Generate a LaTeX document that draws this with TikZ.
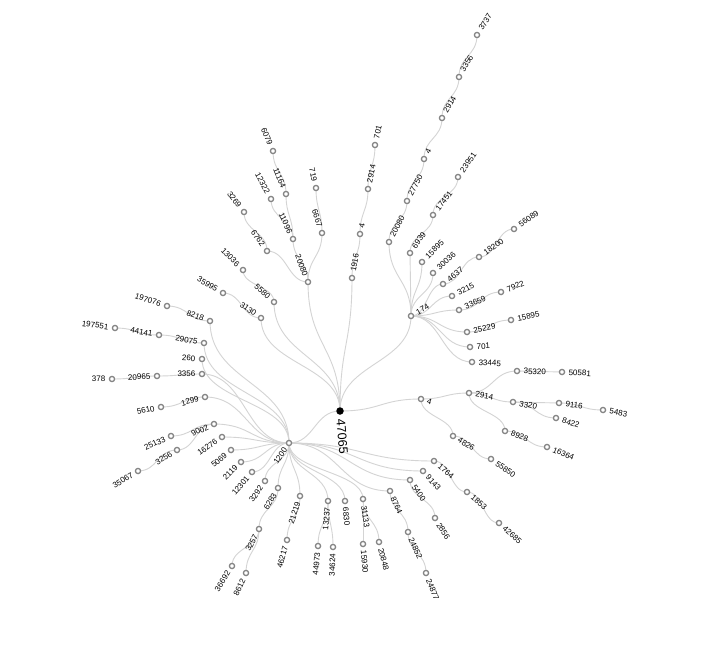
\documentclass[tikz,border=0pt]{standalone}
\usepackage{fontspec}
\setmainfont{Liberation Sans}
\usetikzlibrary{calc}
\pgfdeclarelayer{bg}
\pgfsetlayers{bg,main}
\definecolor{linkc}{HTML}{D4D4D4}
\definecolor{nodec}{HTML}{858585}
\tikzset{
 tnode/.style={circle, draw=nodec, fill=white, line width=1.3pt, minimum size=5.2pt, inner sep=0pt},
 rootnode/.style={circle, fill=black, minimum size=7.5pt, inner sep=0pt},
 lbl/.style={font=\fontsize{8}{9}\selectfont, inner sep=0pt, text=black},
 link/.style={draw=linkc, line width=0.9pt},
}
\newcommand\NR[5]{\node[tnode] (#1) at (#2,-#3) {};
 \node[lbl, anchor=west, rotate=#5] (#1t) at ($(#1)+(#5:6.5)$) {#4};}
\newcommand\NL[5]{\node[tnode] (#1) at (#2,-#3) {};
 \pgfmathsetmacro\myrot{#5+180}
 \node[lbl, anchor=east, rotate=\myrot] (#1t) at ($(#1)+(#5:6.5)$) {#4};}
\newcommand\lkh[2]{\draw[link] let \p1=(#1), \p2=(#2) in (\p1) .. controls ({(\x1+\x2)/2},\y1) and ({(\x1+\x2)/2},\y2) .. (\p2);}
\newcommand\lkv[2]{\draw[link] let \p1=(#1), \p2=(#2) in (\p1) .. controls (\x1,{(\y1+\y2)/2}) and (\x2,{(\y1+\y2)/2}) .. (\p2);}
\begin{document}
\begin{tikzpicture}[x=1pt,y=1pt]
\useasboundingbox (0,-645) rectangle (701,0);
% root
\node[rootnode] (R) at (340,-411) {};
\node[lbl, font=\fontsize{12.5}{14}\selectfont, anchor=west, rotate=-85] (Rt) at ($(R)+(-85:8)$) {47065};
% top-left
\NL{a20080}{308}{282}{20080}{111}
\NL{b11096}{293}{239}{11096}{115}
\NL{c11164}{286}{194}{11164}{112}
\NL{d6079}{273}{151}{6079}{113}
\NL{e12322}{271}{199}{12322}{118}
\NL{f6667}{322}{233}{6667}{108}
\NL{g719}{316}{188}{719}{102}
\NL{h6762}{267}{251}{6762}{125}
\NL{i3269}{244}{212}{3269}{128}
\NR{j1916}{352}{278}{1916}{80}
\NR{k4}{360}{234}{4}{78}
\NR{l2914}{368}{189}{2914}{78}
\NR{m701}{375}{145}{701}{78}
\NL{p5580}{274}{302}{5580}{138}
\NL{p13036}{243}{270}{13036}{135}
\NL{p3130}{261}{318}{3130}{145}
\NL{p35995}{223}{293}{35995}{150}
% left
\NL{n1200}{289}{443}{1200}{236}
\NL{q8218}{210}{321}{8218}{160}
\NL{q197076}{167}{306}{197076}{162}
\NL{q29075}{204}{343}{29075}{170}
\NL{q44141}{159}{335}{44141}{170}
\NL{q197551}{115}{328}{197551}{172}
\NL{q260}{202}{359}{260}{177}
\NL{q3356}{202}{374}{3356}{180}
\NL{q20965}{157}{376}{20965}{183}
\NL{q378}{112}{379}{378}{180}
\NL{q1299}{205}{397}{1299}{195}
\NL{q5610}{161}{407}{5610}{192}
\NL{q9002}{214}{424}{9002}{205}
\NL{q25133}{171}{436}{25133}{205}
\NL{q3256}{177}{450}{3256}{212}
\NL{q35067}{138}{471}{35067}{212}
\NL{q16276}{222}{437}{16276}{215}
\NL{q5069}{231}{450}{5069}{220}
\NL{q2119}{241}{462}{2119}{225}
\NL{q12301}{252}{472}{12301}{230}
\NL{q3292}{265}{481}{3292}{235}
\NL{q6283}{278}{488}{6283}{240}
\NL{q3257}{259}{529}{3257}{242}
\NL{q36692}{232}{566}{36692}{238}
\NL{q8612}{246}{573}{8612}{245}
\NL{q21219}{300}{496}{21219}{252}
\NL{q46217}{287}{540}{46217}{255}
\NL{q13237}{328}{501}{13237}{265}
\NL{q44973}{318}{546}{44973}{265}
\NL{q34624}{333}{547}{34624}{268}
% bottom right
\NR{r6830}{345}{501}{6830}{-85}
\NR{r31133}{363}{499}{31133}{-82}
\NR{r15930}{363}{544}{15930}{-85}
\NR{r20848}{379}{542}{20848}{-75}
\NR{r8764}{390}{491}{8764}{-65}
\NR{r24852}{408}{532}{24852}{-65}
\NR{r24877}{426}{573}{24877}{-68}
\NR{r5400}{410}{480}{5400}{-55}
\NR{r2856}{435}{518}{2856}{-58}
\NR{r9143}{423}{471}{9143}{-48}
\NR{r1764}{434}{461}{1764}{-40}
\NR{r1853}{467}{492}{1853}{-40}
\NR{r42685}{499}{523}{42685}{-42}
% right
\NR{s4}{421}{399}{4}{-20}
\NR{s2914}{469}{393}{2914}{-10}
\NR{s35320}{517}{371}{35320}{-2}
\NR{s50581}{562}{372}{50581}{-3}
\NR{s3320}{513}{402}{3320}{-12}
\NR{s9116}{559}{403}{9116}{-8}
\NR{s5483}{603}{410}{5483}{-10}
\NR{s8422}{556}{418}{8422}{-18}
\NR{s8928}{505}{431}{8928}{-20}
\NR{s16364}{547}{447}{16364}{-22}
\NR{s4826}{453}{436}{4826}{-32}
\NR{s55850}{491}{459}{55850}{-35}
% 174 cluster
\NR{t174}{411}{316}{174}{30}
\NR{t20080}{389}{242}{20080}{62}
\NR{t27750}{407}{201}{27750}{62}
\NR{t4}{424}{159}{4}{62}
\NR{t2914}{442}{118}{2914}{60}
\NR{t3356}{459}{77}{3356}{60}
\NR{t3737}{477}{35}{3737}{58}
\NR{t6939}{410}{253}{6939}{55}
\NR{t17451}{433}{215}{17451}{52}
\NR{t23951}{458}{177}{23951}{55}
\NR{t15895}{422}{262}{15895}{45}
\NR{t30036}{433}{273}{30036}{42}
\NR{t4637}{443}{284}{4637}{38}
\NR{t18200}{479}{257}{18200}{35}
\NR{t56089}{514}{229}{56089}{35}
\NR{t3215}{452}{296}{3215}{28}
\NR{t33659}{459}{310}{33659}{25}
\NR{t7922}{501}{292}{7922}{22}
\NR{t25229}{467}{332}{25229}{12}
\NR{u15895}{511}{320}{15895}{12}
\NR{t701}{470}{347}{701}{3}
\NR{t33445}{472}{362}{33445}{-3}
% links
\begin{pgfonlayer}{bg}
\fill[white] (0,-645) rectangle (701,0);
\lkv{R}{a20080} \lkv{R}{j1916} \lkv{R}{p5580} \lkv{R}{p3130} \lkh{R}{n1200} \lkv{R}{t174} \lkh{R}{s4}
\lkv{a20080}{b11096} \lkv{a20080}{f6667} \lkh{a20080}{h6762}
\lkv{b11096}{c11164} \lkv{b11096}{e12322} \lkv{c11164}{d6079} \lkv{f6667}{g719} \lkv{h6762}{i3269}
\lkv{j1916}{k4} \lkv{k4}{l2914} \lkv{l2914}{m701}
\lkv{p5580}{p13036} \lkh{p3130}{p35995}
\lkv{n1200}{q8218} \lkv{n1200}{q29075} \lkv{n1200}{q260} \lkh{n1200}{q3356} \lkh{n1200}{q1299} \lkh{n1200}{q9002} \lkh{n1200}{q16276} \lkh{n1200}{q5069} \lkh{n1200}{q2119} \lkh{n1200}{q12301} \lkv{n1200}{q3292} \lkv{n1200}{q6283} \lkv{n1200}{q21219} \lkv{n1200}{q13237} \lkv{n1200}{r6830} \lkv{n1200}{r31133} \lkh{n1200}{r8764} \lkh{n1200}{r5400} \lkh{n1200}{r9143} \lkh{n1200}{r1764}
\lkh{q8218}{q197076} \lkh{q29075}{q44141} \lkh{q44141}{q197551} \lkh{q3356}{q20965} \lkh{q20965}{q378} \lkh{q1299}{q5610} \lkh{q9002}{q25133} \lkh{q9002}{q3256} \lkh{q3256}{q35067}
\lkv{q6283}{q3257} \lkv{q3257}{q36692} \lkv{q3257}{q8612} \lkv{q21219}{q46217} \lkv{q13237}{q44973} \lkv{q13237}{q34624}
\lkv{r31133}{r15930} \lkv{r31133}{r20848} \lkv{r8764}{r24852} \lkv{r24852}{r24877} \lkv{r5400}{r2856} \lkh{r1764}{r1853} \lkh{r1853}{r42685}
\lkh{s4}{s2914} \lkv{s4}{s4826} \lkh{s2914}{s35320} \lkh{s2914}{s3320} \lkv{s2914}{s8928} \lkh{s35320}{s50581} \lkh{s3320}{s9116} \lkh{s3320}{s8422} \lkh{s9116}{s5483} \lkh{s8928}{s16364} \lkh{s4826}{s55850}
\lkv{t174}{t20080} \lkv{t20080}{t27750} \lkv{t27750}{t4} \lkv{t4}{t2914} \lkv{t2914}{t3356} \lkv{t3356}{t3737}
\lkv{t174}{t6939} \lkv{t6939}{t17451} \lkv{t17451}{t23951} \lkv{t174}{t15895} \lkv{t174}{t30036} \lkh{t174}{t4637} \lkh{t4637}{t18200} \lkh{t18200}{t56089} \lkh{t174}{t3215} \lkh{t174}{t33659} \lkh{t33659}{t7922} \lkh{t174}{t25229} \lkh{t25229}{u15895} \lkh{t174}{t701} \lkh{t174}{t33445}
\end{pgfonlayer}
\end{tikzpicture}
\end{document}
